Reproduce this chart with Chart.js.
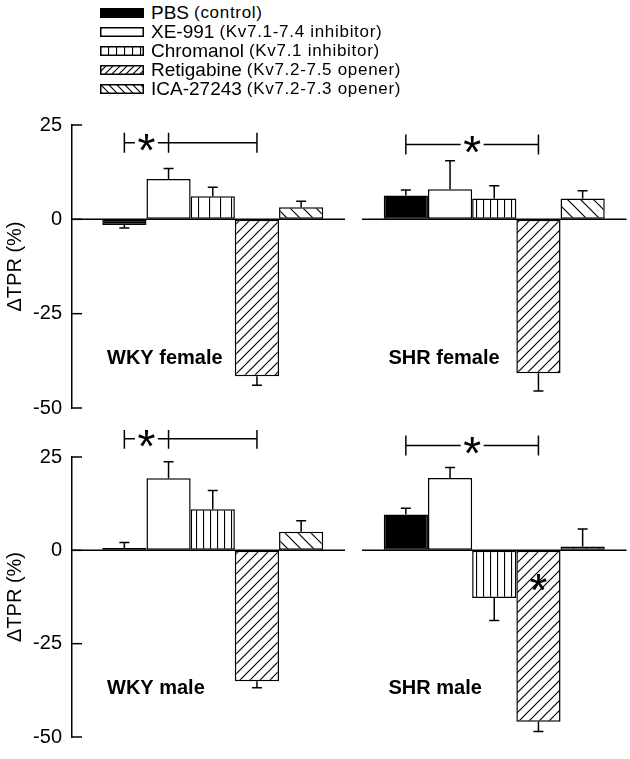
<!DOCTYPE html>
<html>
<head>
<meta charset="utf-8">
<script src="https://cdn.jsdelivr.net/npm/chart.js@4/dist/chart.umd.min.js"></script>
<style>
  html, body { margin: 0; padding: 0; background: #fff; overflow: hidden; width: 630px; height: 759px; }
  body { position: relative; font-family: 'Liberation Sans', Arial, sans-serif; color: #000; }
  .leg-row { position: absolute; left: 100px; height: 19px; white-space: nowrap; display: flex; align-items: center; }
  .leg-row canvas { margin-right: 7px; }
  .leg-main { font-size: 19px; }
  .leg-note { font-size: 17px; margin-left: 5px; letter-spacing: 0.7px; }
  canvas.panel { position: absolute; left: 0; }
</style>
</head>
<body>
<div id="legend"></div>
<canvas id="female-chart" class="panel" width="640" height="330" style="top:100px"></canvas>
<canvas id="male-chart" class="panel" width="640" height="329" style="top:430px"></canvas>

<script>
'use strict';

// ─── DATA ─────────────────────────────────────────────────────────────────────

const TREATMENTS = ['PBS', 'XE-991', 'Chromanol', 'Retigabine', 'ICA-27243'];
const NOTES      = ['(control)', '(Kv7.1-7.4 inhibitor)', '(Kv7.1 inhibitor)',
                    '(Kv7.2-7.5 opener)', '(Kv7.2-7.3 opener)'];

const FEMALE_LABELS = ['WKY female', 'SHR female'];
const MALE_LABELS   = ['WKY male', 'SHR male'];

const Y_TICKS = [25, 0, -25, -50];

// mean ΔTPR (%) per treatment, [WKY, SHR]
const FEMALE_PBS   = [-1.5, 6.3];
const FEMALE_XE    = [10.7, 8.0];
const FEMALE_CHROM = [6.1, 5.5];
const FEMALE_RETI  = [-41.6, -40.8];
const FEMALE_ICA   = [3.2, 5.5];

const MALE_PBS   = [0.6, 9.6];
const MALE_XE    = [19.3, 19.4];
const MALE_CHROM = [11.0, -12.8];
const MALE_RETI  = [-35.1, -45.9];
const MALE_ICA   = [5.0, 1.0];

// SEM per treatment, [WKY, SHR]
const FEMALE_PBS_ERR   = [0.8, 1.5];
const FEMALE_XE_ERR    = [2.8, 7.5];
const FEMALE_CHROM_ERR = [2.4, 3.4];
const FEMALE_RETI_ERR  = [2.4, 4.7];
const FEMALE_ICA_ERR   = [1.6, 2.1];

const MALE_PBS_ERR   = [1.5, 1.7];
const MALE_XE_ERR    = [4.4, 2.8];
const MALE_CHROM_ERR = [5.0, 6.0];
const MALE_RETI_ERR  = [1.7, 2.6];
const MALE_ICA_ERR   = [2.9, 4.7];

// significance brackets: from / middle tick / to (treatment index), height (%)
const FEMALE_SIG_Y = [20.3, 19.8];
const MALE_SIG_Y   = [29.9, 28.1];
const SIG_FROM = [0, 0];
const SIG_MID  = [1, null];
const SIG_TO   = [3, 3];

// asterisk inside a bar: [treatment, panel, height (%)]
const MALE_BAR_STAR = [3, 1, -8.5];

const LABEL_Y = -37;

// ─── PATTERNS ─────────────────────────────────────────────────────────────────

const INK = '#000';

function tile(size, draw) {
  const c = document.createElement('canvas');
  c.width = size; c.height = size;
  const g = c.getContext('2d');
  g.fillStyle = '#fff';
  g.fillRect(0, 0, size, size);
  g.strokeStyle = INK;
  g.lineWidth = 1.2;
  draw(g, size);
  return g.createPattern(c, 'repeat');
}

function vLines(size) {
  return tile(size, (g, s) => {
    g.beginPath(); g.moveTo(0.5, 0); g.lineTo(0.5, s); g.stroke();
  });
}

function hatch(size, up) {
  return tile(size, (g, s) => {
    g.beginPath();
    if (up) {
      g.moveTo(0, s); g.lineTo(s, 0);
      g.moveTo(-2, 2); g.lineTo(2, -2);
      g.moveTo(s - 2, s + 2); g.lineTo(s + 2, s - 2);
    } else {
      g.moveTo(0, 0); g.lineTo(s, s);
      g.moveTo(s - 2, -2); g.lineTo(s + 2, 2);
      g.moveTo(-2, s - 2); g.lineTo(2, s + 2);
    }
    g.stroke();
  });
}

const FILL_PBS  = INK;
const FILL_XE   = '#fff';
const FILL_RETI = hatch(10, true);
const FILL_ICA  = hatch(13, false);

// ─── LEGEND ───────────────────────────────────────────────────────────────────

const legendFills = [FILL_PBS, FILL_XE, vLines(8), hatch(7, true), hatch(8, false)];
const legendCenters = [13, 32, 51, 70, 89];

const legendEl = document.getElementById('legend');
TREATMENTS.forEach((name, k) => {
  const row = document.createElement('div');
  row.className = 'leg-row';
  row.style.top = (legendCenters[k] - 9.5) + 'px';

  const sw = document.createElement('canvas');
  sw.width = 44; sw.height = 10;
  const g = sw.getContext('2d');
  g.fillStyle = legendFills[k];
  g.fillRect(1, 1, 42, 8);
  g.strokeStyle = INK; g.lineWidth = 1.5;
  g.strokeRect(0.75, 0.75, 42.5, 8.5);
  row.appendChild(sw);

  const main = document.createElement('span');
  main.className = 'leg-main';
  main.textContent = name;
  const note = document.createElement('span');
  note.className = 'leg-note';
  note.textContent = NOTES[k];
  row.appendChild(main);
  row.appendChild(note);
  legendEl.appendChild(row);
});

// ─── PANEL DECORATIONS (error bars, zero line, brackets, labels) ─────────────

const FONT = "'Liberation Sans', Arial, sans-serif";

function drawStar(ctx, x, y) {
  ctx.save();
  ctx.font = '46px ' + FONT;
  ctx.textAlign = 'center';
  ctx.textBaseline = 'alphabetic';
  const m = ctx.measureText('*');
  const mid = (m.actualBoundingBoxAscent - m.actualBoundingBoxDescent) / 2;
  ctx.fillStyle = INK;
  ctx.fillText('*', x, y + mid);
  ctx.restore();
}

const panelPlugin = {
  id: 'panel',
  afterDatasetsDraw(chart, args, opts) {
    const { ctx, chartArea } = chart;
    const xs = chart.scales.x;
    const ys = chart.scales.y;
    const nCat = chart.data.labels.length;
    const catW = xs.width / nCat;

    ctx.save();
    ctx.strokeStyle = INK;
    ctx.lineWidth = 1.5;

    // error bars
    chart.data.datasets.forEach((ds, k) => {
      const meta = chart.getDatasetMeta(k);
      meta.data.forEach((bar, i) => {
        const v = ds.data[i];
        const end = v + Math.sign(v) * ds.errors[i];
        const yEnd = ys.getPixelForValue(end);
        ctx.beginPath();
        ctx.moveTo(bar.x, bar.y);
        ctx.lineTo(bar.x, yEnd);
        ctx.moveTo(bar.x - 5, yEnd);
        ctx.lineTo(bar.x + 5, yEnd);
        ctx.stroke();
      });
    });

    // zero line, split per panel
    const y0 = ys.getPixelForValue(0);
    for (let i = 0; i < nCat; i++) {
      const c = xs.getPixelForValue(i);
      const a = c - catW / 2 + (i === 0 ? 0 : 8.5);
      const b = c + catW / 2 - 8.5;
      ctx.beginPath(); ctx.moveTo(a, y0); ctx.lineTo(b, y0); ctx.stroke();
    }

    // inward y ticks
    Y_TICKS.forEach(t => {
      const y = ys.getPixelForValue(t);
      ctx.beginPath(); ctx.moveTo(chartArea.left, y); ctx.lineTo(chartArea.left + 10, y); ctx.stroke();
    });

    // significance brackets
    const barX = (k, i) => chart.getDatasetMeta(k).data[i].x;
    opts.sigY.forEach((yv, i) => {
      const y = ys.getPixelForValue(yv);
      const xa = barX(SIG_FROM[i], i);
      const xb = barX(SIG_TO[i], i);
      const xm = SIG_MID[i] === null ? null : barX(SIG_MID[i], i);
      const sx = xm === null ? (xa + xb) / 2 : (xa + xm) / 2;
      const gap = 11.5;
      ctx.beginPath();
      ctx.moveTo(xa, y); ctx.lineTo(sx - gap, y);
      ctx.moveTo(sx + gap, y); ctx.lineTo(xb, y);
      [xa, xm, xb].forEach(x => {
        if (x === null) return;
        ctx.moveTo(x, y - 10); ctx.lineTo(x, y + 10);
      });
      ctx.stroke();
      drawStar(ctx, sx, y);
    });

    // star inside a bar
    if (opts.barStar) {
      const [k, i, v] = opts.barStar;
      drawStar(ctx, barX(k, i), ys.getPixelForValue(v));
    }

    // panel labels
    ctx.font = 'bold 20px ' + FONT;
    ctx.fillStyle = INK;
    ctx.textAlign = 'left';
    ctx.textBaseline = 'middle';
    chart.data.labels.forEach((lab, i) => {
      const start = xs.getPixelForValue(i) - catW / 2;
      ctx.fillText(lab, start + 35, ys.getPixelForValue(LABEL_Y));
    });

    ctx.restore();
  },
};

// ─── CHARTS ───────────────────────────────────────────────────────────────────

function buildChart(id, labels, values, errors, fills, pad, opts) {
  return new Chart(document.getElementById(id), {
    type: 'bar',
    data: {
      labels,
      datasets: TREATMENTS.map((t, k) => ({
        label:              t,
        data:               values[k],
        errors:             errors[k],
        backgroundColor:    fills[k],
        borderColor:        INK,
        borderWidth:        1.5,
        borderSkipped:      false,
        categoryPercentage: 0.785,
        barPercentage:      1,
      })),
    },
    options: {
      responsive:       false,
      animation:        false,
      devicePixelRatio: 1,
      layout: { padding: { top: pad[0], bottom: pad[1], left: 0, right: 5 } },
      plugins: {
        legend:  { display: false },
        tooltip: { enabled: false },
        panel:   opts,
      },
      scales: {
        x: { display: false, offset: true },
        y: {
          min: -50,
          max: 25,
          afterFit: s => { s.width = 72; },
          afterBuildTicks: s => { s.ticks = Y_TICKS.slice().reverse().map(v => ({ value: v })); },
          ticks:  { color: INK, padding: 10, font: { size: 20, family: FONT } },
          grid:   { display: true, drawOnChartArea: false, drawTicks: false },
          border: { display: true, color: INK, width: 1.5 },
          title: {
            display: true,
            text:    'ΔTPR (%)',
            color:   INK,
            font:    { size: 20, family: FONT },
            padding: { top: 3, bottom: 3 },
          },
        },
      },
    },
    plugins: [panelPlugin],
  });
}

buildChart('female-chart', FEMALE_LABELS,
  [FEMALE_PBS, FEMALE_XE, FEMALE_CHROM, FEMALE_RETI, FEMALE_ICA],
  [FEMALE_PBS_ERR, FEMALE_XE_ERR, FEMALE_CHROM_ERR, FEMALE_RETI_ERR, FEMALE_ICA_ERR],
  [FILL_PBS, FILL_XE, [vLines(11), vLines(7)], FILL_RETI, FILL_ICA],
  [25, 17],
  { sigY: FEMALE_SIG_Y, barStar: null });

buildChart('male-chart', MALE_LABELS,
  [MALE_PBS, MALE_XE, MALE_CHROM, MALE_RETI, MALE_ICA],
  [MALE_PBS_ERR, MALE_XE_ERR, MALE_CHROM_ERR, MALE_RETI_ERR, MALE_ICA_ERR],
  [FILL_PBS, FILL_XE, [vLines(7.5), vLines(7)], FILL_RETI, FILL_ICA],
  [27, 11],
  { sigY: MALE_SIG_Y, barStar: MALE_BAR_STAR });
</script>
</body>
</html>
